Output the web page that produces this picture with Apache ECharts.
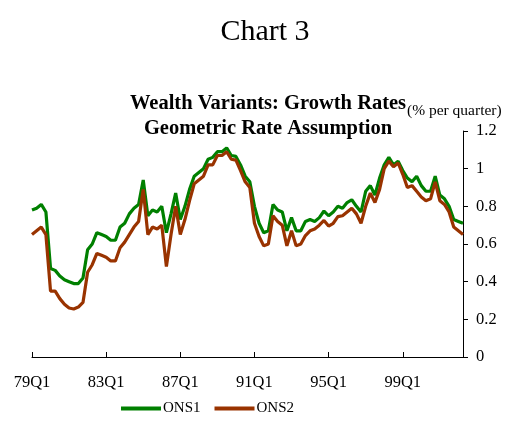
<!DOCTYPE html>
<html>
<head>
    <meta http-equiv="Content-Type" content="text/html; charset=utf-8" />
    <script type="text/javascript" src="https://cdn.jsdelivr.net/npm/echarts@6/dist/echarts.min.js"></script>
</head>
<body style="margin:0;background:#fff;">
    <div id="chartDom" style="position: absolute; width: 513px; height: 423px;"></div>

    <script type="text/javascript">
        // quarters 79Q1 .. 02Q2
        var years = ['79','80','81','82','83','84','85','86','87','88','89','90','91','92','93','94','95','96','97','98','99','00','01','02'];
        var quarters = [];
        years.forEach(function (y) {
            for (var q = 1; q <= 4; q++) quarters.push(y + 'Q' + q);
        });
        quarters = quarters.slice(0, 94);

        var ons1 = [0.78,0.79,0.81,0.77,0.47,0.46,0.43,0.41,0.40,0.39,0.39,0.42,0.57,0.60,0.66,0.65,
                    0.64,0.62,0.62,0.69,0.71,0.76,0.79,0.81,0.94,0.75,0.78,0.77,0.80,0.66,0.76,0.87,
                    0.73,0.80,0.89,0.96,0.98,1.00,1.05,1.06,1.09,1.09,1.11,1.07,1.065,1.02,0.96,0.93,
                    0.80,0.71,0.66,0.67,0.81,0.78,0.77,0.67,0.74,0.67,0.67,0.72,0.73,0.72,0.74,0.775,
                    0.75,0.77,0.80,0.79,0.82,0.835,0.80,0.77,0.88,0.91,0.86,0.95,1.02,1.06,1.02,1.04,
                    0.99,0.95,0.93,0.96,0.91,0.88,0.88,0.96,0.86,0.84,0.80,0.73,0.72,0.71];
        var ons2 = [0.65,0.67,0.69,0.65,0.35,0.35,0.31,0.28,0.26,0.255,0.265,0.29,0.45,0.49,0.55,0.54,
                    0.53,0.51,0.51,0.58,0.61,0.65,0.69,0.72,0.89,0.65,0.69,0.68,0.70,0.48,0.65,0.80,
                    0.65,0.73,0.83,0.92,0.94,0.96,1.02,1.02,1.07,1.07,1.09,1.05,1.045,0.99,0.93,0.90,
                    0.71,0.64,0.59,0.60,0.75,0.72,0.70,0.59,0.67,0.59,0.60,0.645,0.67,0.68,0.70,0.725,
                    0.695,0.71,0.745,0.75,0.77,0.79,0.76,0.71,0.80,0.87,0.82,0.89,1.00,1.04,1.01,1.03,
                    0.97,0.90,0.91,0.88,0.85,0.83,0.84,0.93,0.83,0.81,0.77,0.69,0.67,0.65];

        var font = '"Liberation Serif", "Times New Roman", serif';

        var myChart = echarts.init(document.getElementById("chartDom"));
        var option = {
            backgroundColor: '#fff',
            animation: false,
            textStyle: { fontFamily: font, color: '#000' },
            title: [
                { text: 'Chart 3', left: 260, top: 12, textAlign: 'center',
                  textStyle: { fontFamily: font, fontSize: 30, fontWeight: 'normal', color: '#000' } },
                { text: 'Wealth Variants: Growth Rates\nGeometric Rate Assumption', left: 263, top: 86, textAlign: 'center',
                  textStyle: { fontFamily: font, fontSize: 20.5, fontWeight: 'bold', color: '#000', lineHeight: 25 } },
                { text: '(% per quarter)', left: 402, top: 98,
                  textStyle: { fontFamily: font, fontSize: 15.5, fontWeight: 'normal', color: '#000' } }
            ],
            legend: {
                bottom: 2, left: 116,
                icon: 'rect', itemWidth: 40, itemHeight: 4, itemGap: 14,
                textStyle: { fontFamily: font, fontSize: 15, color: '#000', padding: [0, 0, 0, -3] },
                data: ['ONS1', 'ONS2']
            },
            grid: { left: 32, right: 50, top: 131, bottom: 66 },
            xAxis: {
                type: 'category',
                data: quarters,
                boundaryGap: false,
                axisLine: { lineStyle: { color: '#000', width: 1 } },
                axisTick: { inside: true, interval: 15, length: 5, lineStyle: { color: '#000' } },
                axisLabel: { interval: 15, color: '#000', fontFamily: font, fontSize: 16.5, margin: 17 }
            },
            yAxis: {
                type: 'value',
                position: 'right',
                min: 0, max: 1.2, interval: 0.2,
                splitLine: { show: false },
                axisLine: { show: true, lineStyle: { color: '#000', width: 1 } },
                axisTick: { show: true, length: 5, lineStyle: { color: '#000' } },
                axisLabel: { color: '#000', fontFamily: font, fontSize: 16.5, margin: 13 }
            },
            series: [
                { name: 'ONS1', type: 'line', data: ons1, symbol: 'none',
                  lineStyle: { color: '#008000', width: 3.2 }, itemStyle: { color: '#008000' } },
                { name: 'ONS2', type: 'line', data: ons2, symbol: 'none',
                  lineStyle: { color: '#993300', width: 3.2 }, itemStyle: { color: '#993300' } }
            ]
        };
        myChart.setOption(option);
    </script>
</body>
</html>
